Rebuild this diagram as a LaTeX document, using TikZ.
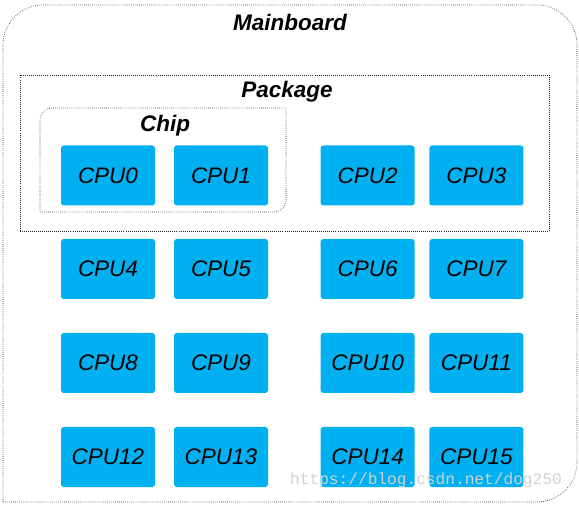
\documentclass[tikz,border=0pt]{standalone}
\usepackage{fontspec}
\usepackage{tikz}
\usepackage{color}
\setmainfont{Liberation Sans}
\newfontfamily\markfont{Liberation Mono}
\definecolor{cpublue}{RGB}{0,176,240}

\begin{document}
\begin{tikzpicture}[
  cpu/.style={rectangle, fill=cpublue, rounded corners=2pt, minimum width=2.35cm, minimum height=1.5cm, font=\itshape\fontsize{16}{18}\selectfont},
  frame/.style={densely dotted, line width=0.45pt, draw=black!85},
  title/.style={font=\bfseries\itshape\fontsize{16}{18}\selectfont}
]
  \useasboundingbox (0,0) rectangle (14.475,12.625);

  % Boxes
  \draw[frame] (0.075,0.075) [rounded corners=1cm] -- (14.425,0.075) -- (14.425,12.5) -- (0.075,12.5) [sharp corners] -- cycle;
  \draw[frame] (0.5,6.85) rectangle (13.725,10.75);
  \draw[frame] (1.0,7.325) [rounded corners=0.3cm] -- (7.15,7.325) [sharp corners] -- (7.15,9.925) [rounded corners=0.3cm] -- (1.0,9.925) [sharp corners] -- cycle;

  % Labels
  \node[title] (mainboard) at (7.25,12.075) {Mainboard};
  \node[title] (package) at (7.175,10.325) {Package};
  \node[title] (chip) at (4.125,9.475) {Chip};

  % CPUs
  \node[cpu] (cpu0) at (2.7,8.2375) {CPU0};
  \node[cpu] (cpu1) at (5.525,8.2375) {CPU1};
  \node[cpu] (cpu2) at (9.19,8.2375) {CPU2};
  \node[cpu] (cpu3) at (11.91,8.2375) {CPU3};
  \node[cpu] (cpu4) at (2.7,5.9) {CPU4};
  \node[cpu] (cpu5) at (5.525,5.9) {CPU5};
  \node[cpu] (cpu6) at (9.19,5.9) {CPU6};
  \node[cpu] (cpu7) at (11.91,5.9) {CPU7};
  \node[cpu] (cpu8) at (2.7,3.55) {CPU8};
  \node[cpu] (cpu9) at (5.525,3.55) {CPU9};
  \node[cpu] (cpu10) at (9.19,3.55) {CPU10};
  \node[cpu] (cpu11) at (11.91,3.55) {CPU11};
  \node[cpu] (cpu12) at (2.7,1.2) {CPU12};
  \node[cpu] (cpu13) at (5.525,1.2) {CPU13};
  \node[cpu] (cpu14) at (9.19,1.2) {CPU14};
  \node[cpu] (cpu15) at (11.91,1.2) {CPU15};

  % Watermark
  \node[text=black!18, font=\markfont\fontsize{11.5}{12}\selectfont] (mark) at (10.65,0.625) {https://blog.csdn.net/dog250};
\end{tikzpicture}
\end{document}
